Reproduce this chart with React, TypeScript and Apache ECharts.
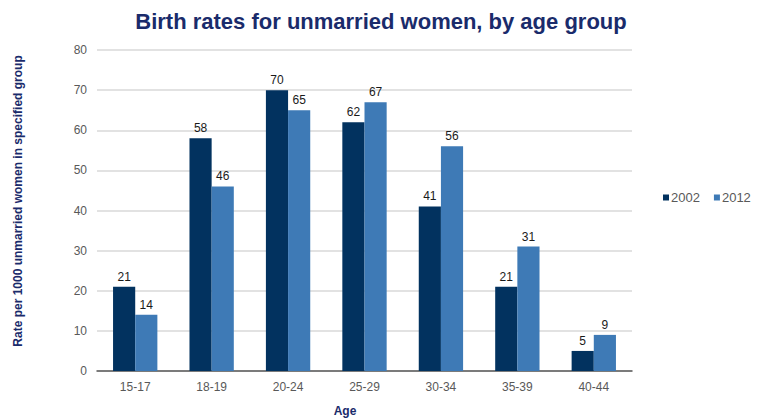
import React, { useEffect, useRef } from "react";
import * as echarts from "echarts";

const ageGroups = ["15-17", "18-19", "20-24", "25-29", "30-34", "35-39", "40-44"];
const rates2002 = [21, 58, 70, 62, 41, 21, 5];
const rates2012 = [14, 46, 65, 67, 56, 31, 9];
const seriesNames = ["2002", "2012"];

const NAVY = "#1A2B6B";
const FONT = "Liberation Sans, Arial, sans-serif";

export default function App() {
  const ref = useRef<HTMLDivElement>(null);

  useEffect(() => {
    document.body.style.margin = "0";
    if (!ref.current) return;
    const chart = echarts.init(ref.current, null, { renderer: "svg" });
    const labelStyle = {
      show: true,
      position: "top" as const,
      color: "#1a1a1a",
      fontSize: 12,
      fontFamily: FONT,
      distance: 4,
    };
    chart.setOption({
      animation: false,
      backgroundColor: "#ffffff",
      title: {
        text: "Birth rates for unmarried women, by age group",
        left: "center",
        top: 5,
        textStyle: {
          color: NAVY,
          fontSize: 22,
          fontWeight: "bold",
          fontFamily: FONT,
        },
      },
      legend: {
        data: seriesNames,
        orient: "horizontal",
        left: 658,
        top: 186,
        itemWidth: 6,
        itemHeight: 6,
        itemGap: 14,
        icon: "rect",
        textStyle: {
          color: "#595959",
          fontSize: 13,
          fontFamily: FONT,
          padding: [0, 0, 0, -3],
        },
      },
      grid: { left: 97, right: 130, top: 50, bottom: 48 },
      xAxis: {
        type: "category",
        data: ageGroups,
        axisTick: { show: false },
        axisLine: { lineStyle: { color: "#595959", width: 1.5 } },
        axisLabel: {
          color: "#595959",
          fontSize: 12,
          margin: 10,
          fontFamily: FONT,
        },
      },
      yAxis: {
        type: "value",
        min: 0,
        max: 80,
        interval: 10,
        axisLine: { show: false },
        axisTick: { show: false },
        splitLine: { lineStyle: { color: "#D9D9D9", width: 1.5 } },
        axisLabel: {
          color: "#595959",
          fontSize: 12,
          margin: 10,
          fontFamily: FONT,
        },
      },
      graphic: [
        {
          type: "text",
          x: 18,
          y: 201,
          rotation: Math.PI / 2,
          style: {
            text: "Rate per 1000 unmarried women in specified group",
            fill: NAVY,
            font: `bold 12px ${FONT}`,
            align: "center",
            verticalAlign: "middle",
          },
        },
        {
          type: "text",
          x: 345,
          y: 411,
          style: {
            text: "Age",
            fill: NAVY,
            font: `bold 12px ${FONT}`,
            align: "center",
            verticalAlign: "middle",
          },
        },
      ],
      series: [
        {
          name: seriesNames[0],
          type: "bar",
          data: rates2002,
          barGap: "0%",
          barCategoryGap: "42%",
          itemStyle: { color: "#02325F" },
          label: labelStyle,
        },
        {
          name: seriesNames[1],
          type: "bar",
          data: rates2012,
          barGap: "0%",
          barCategoryGap: "42%",
          itemStyle: { color: "#3E7AB6" },
          label: labelStyle,
        },
      ],
    });
    return () => chart.dispose();
  }, []);

  return <div ref={ref} style={{ width: 762, height: 419 }} />;
}
